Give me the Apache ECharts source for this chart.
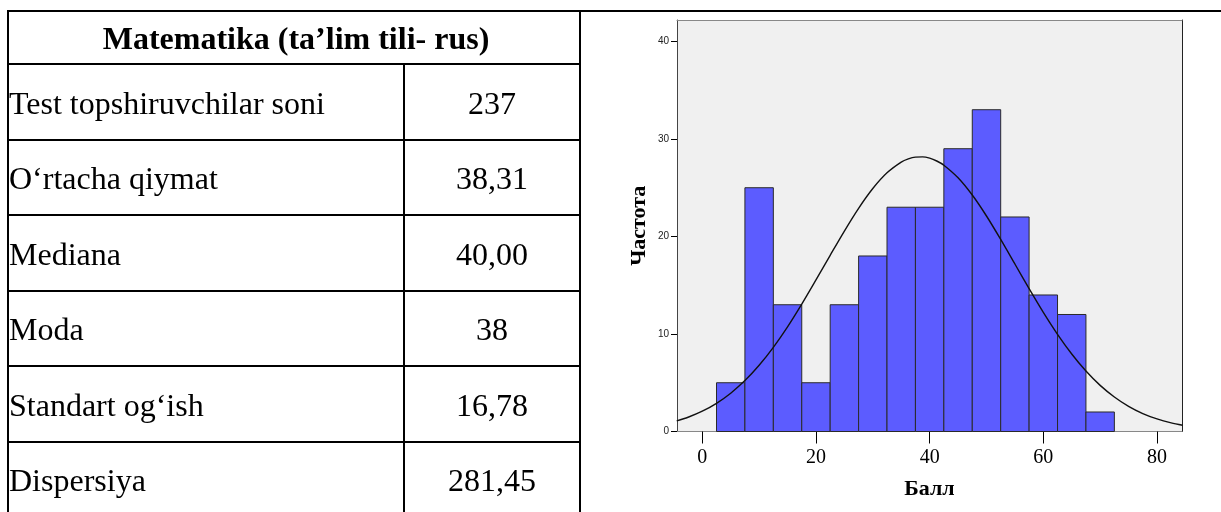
<!DOCTYPE html>
<html>
<head>
<meta charset="utf-8">
<script src="https://cdn.jsdelivr.net/npm/echarts@6/dist/echarts.min.js"></script>
<style>
  html, body { margin: 0; padding: 0; background: #fff; width: 1221px; height: 512px; overflow: hidden; }
  #chart { position: absolute; left: 0; top: 0; width: 1221px; height: 512px; }
  .ln { position: absolute; background: #000; }
  .tx { position: absolute; font-family: "Liberation Serif", "Times New Roman", serif; font-size: 32px; color: #000; white-space: nowrap; line-height: 1; }
</style>
</head>
<body>
<div id="chart"></div>
<div id="table"></div>
<script>
// ---------- data ----------
const tableTitle = "Matematika (ta\u2019lim tili- rus)";
const rowLabels = ["Test topshiruvchilar soni", "O\u2018rtacha qiymat", "Mediana", "Moda", "Standart og\u2018ish", "Dispersiya"];
const rowValues = ["237", "38,31", "40,00", "38", "16,78", "281,45"];

const binCenters = [5, 10, 15, 20, 25, 30, 35, 40, 45, 50, 55, 60, 65, 70];
const binCounts  = [5, 25, 13, 5, 13, 18, 23, 23, 29, 33, 22, 14, 12, 2];
const binWidth = 5;

const curveX = [-4.5, -2.5, 0, 2.5, 5, 7.5, 10, 12.5, 15, 17.5, 20, 22.5, 25, 27.5, 30, 32.5, 35, 36.25, 37.5, 38.75, 40, 41.25, 42.5, 45, 47.5, 50, 52.5, 55, 57.5, 60, 62.5, 65, 67.5, 70, 72.5, 75, 77.5, 80, 82.5, 84.5];
const curveY = [1.09, 1.46, 2.08, 2.89, 3.93, 5.22, 6.79, 8.63, 10.73, 13.06, 15.54, 18.07, 20.56, 22.89, 24.92, 26.53, 27.63, 27.96, 28.14, 28.16, 28.03, 27.74, 27.31, 26.02, 24.25, 22.10, 19.70, 17.18, 14.65, 12.22, 9.97, 7.95, 6.20, 4.73, 3.54, 2.58, 1.84, 1.29, 0.88, 0.64];

const xTicks = [0, 20, 40, 60, 80];
const yTicks = [0, 10, 20, 30, 40];
const xTitle = "Балл";
const yTitle = "Частота";

// ---------- table (HTML) ----------
const T = document.getElementById('table');
function line(x, y, w, h) {
  const d = document.createElement('div');
  d.className = 'ln';
  d.style.left = x + 'px'; d.style.top = y + 'px'; d.style.width = w + 'px'; d.style.height = h + 'px';
  T.appendChild(d);
}
function text(str, x, y, opts) {
  const d = document.createElement('div');
  d.className = 'tx';
  d.textContent = str;
  if (opts && opts.bold) d.style.fontWeight = 'bold';
  d.style.top = y + 'px';
  if (opts && opts.center !== undefined) {
    d.style.left = opts.center + 'px';
    d.style.transform = 'translate(-50%, -50%)';
  } else {
    d.style.left = x + 'px';
    d.style.transform = 'translate(0, -50%)';
  }
  T.appendChild(d);
}
const tblL = 7, tblR = 581, colX = 403, headTop = 10, headBot = 64, rowH = 75.5;
line(tblL, headTop, 1221 - tblL, 2);          // top line across page
line(tblL, headTop, 2, 512 - headTop);        // left border
line(tblR - 2, headTop, 2, 512 - headTop);    // right border
line(tblL, headBot - 1, tblR - tblL, 2);      // header bottom
line(colX, headBot, 2, 512 - headBot);        // column divider
text(tableTitle, 0, (headTop + headBot) / 2 + 1, { bold: true, center: (tblL + tblR) / 2 + 2 });
rowLabels.forEach((lab, i) => {
  const top = headBot + i * rowH;
  if (i > 0) line(tblL, Math.round(top) - 1, tblR - tblL, 2);
  const cy = top + rowH / 2 + 1;
  text(lab, tblL + 2, cy, {});
  text(rowValues[i], 0, cy, { center: (colX + 2 + tblR - 2) / 2 });
});

// ---------- chart ----------
const chart = echarts.init(document.getElementById('chart'), null, { renderer: 'canvas' });
const xMin = -4.45, xMax = 84.4, yMin = 0, yMax = 42.2;
const barData = binCenters.map((c, i) => [c, binCounts[i]]);
const curveData = curveX.map((x, i) => [x, curveY[i]]);

chart.setOption({
  animation: false,
  backgroundColor: 'transparent',
  grid: { left: 677, top: 20, right: 39, bottom: 80.5, show: true, backgroundColor: '#f0f0f0', borderWidth: 0 },
  xAxis: [{
    type: 'value', min: xMin, max: xMax,
    axisLine: { show: true, onZero: false, lineStyle: { color: '#888', width: 1 } },
    axisTick: { show: true, customValues: xTicks, length: 12, lineStyle: { color: '#000', width: 1 } },
    axisLabel: { customValues: xTicks, margin: 16, fontFamily: 'Liberation Serif', fontSize: 20, color: '#000' },
    splitLine: { show: false },
    name: xTitle, nameLocation: 'middle', nameGap: 47,
    nameTextStyle: { fontFamily: 'Liberation Serif', fontWeight: 'bold', fontSize: 22, color: '#000' }
  }, {
    type: 'value', position: 'top', min: xMin, max: xMax,
    axisLine: { show: true, onZero: false, lineStyle: { color: '#888', width: 1 } },
    axisTick: { show: false }, axisLabel: { show: false }, splitLine: { show: false }
  }],
  yAxis: [{
    type: 'value', min: yMin, max: yMax,
    axisLine: { show: true, onZero: false, lineStyle: { color: '#444', width: 1 } },
    axisTick: { show: true, customValues: yTicks, length: 6, lineStyle: { color: '#000', width: 1 } },
    axisLabel: { customValues: yTicks, margin: 8, fontFamily: 'Liberation Sans', fontSize: 10, color: '#222' },
    splitLine: { show: false },
    name: yTitle, nameLocation: 'middle', nameGap: 27,
    nameTextStyle: { fontFamily: 'Liberation Serif', fontWeight: 'bold', fontSize: 22, color: '#000' }
  }, {
    type: 'value', position: 'right', min: yMin, max: yMax,
    axisLine: { show: true, onZero: false, lineStyle: { color: '#222', width: 1 } },
    axisTick: { show: false }, axisLabel: { show: false }, splitLine: { show: false }
  }],
  series: [{
    type: 'custom',
    data: barData,
    encode: { x: 0, y: 1 },
    renderItem: function (params, api) {
      const c = api.value(0), v = api.value(1);
      const p0 = api.coord([c - binWidth / 2, v]);
      const p1 = api.coord([c + binWidth / 2, 0]);
      return {
        type: 'rect',
        shape: { x: p0[0], y: p0[1], width: p1[0] - p0[0], height: p1[1] - p0[1] },
        style: { fill: '#5c5cff', stroke: '#2a2a2a', lineWidth: 1 }
      };
    },
    z: 2
  }, {
    type: 'line',
    data: curveData,
    smooth: 0.3,
    showSymbol: false,
    symbol: 'none',
    clip: true,
    lineStyle: { color: '#111', width: 1.4 },
    z: 3
  }]
});
</script>
</body>
</html>
